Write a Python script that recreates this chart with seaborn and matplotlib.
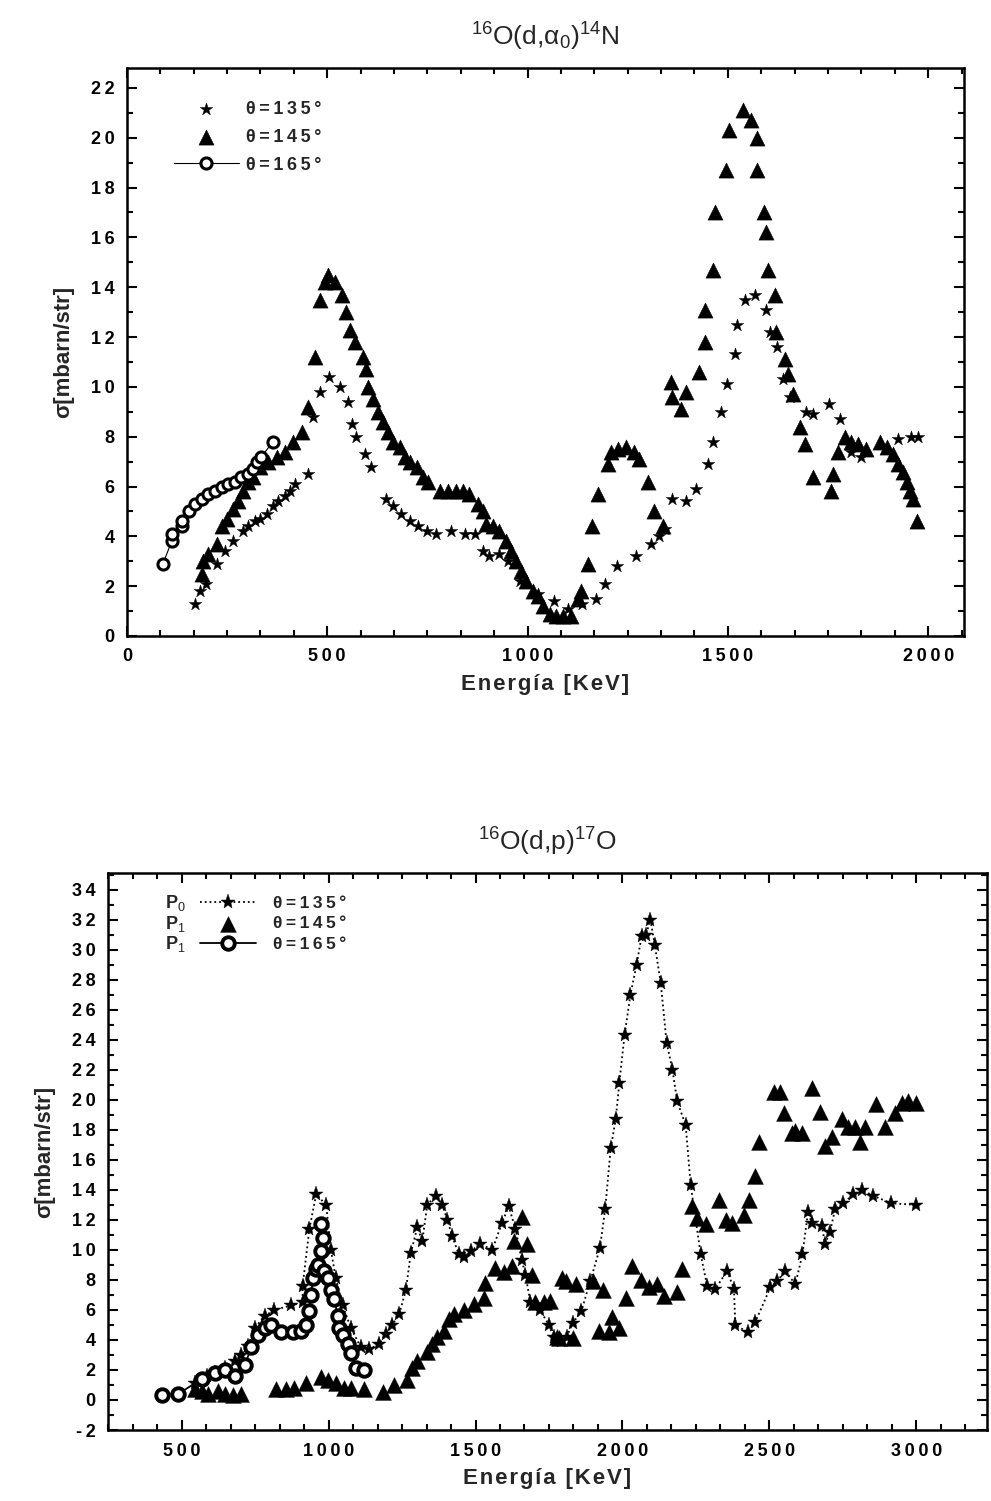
import matplotlib
matplotlib.use("Agg")
import matplotlib.pyplot as plt
import seaborn as sns
from matplotlib.ticker import MultipleLocator, AutoMinorLocator, FuncFormatter

# ---- 16O(d,a0)14N ----
e135_top = [170, 183, 198, 224, 245, 266, 291, 303, 320, 332, 349, 365, 378, 395, 407, 419, 453, 465, 482, 505,
            533, 552, 561, 573, 594, 610, 648, 664, 685, 706, 727, 748, 772, 810, 843, 868, 889, 905, 930, 951,
            980, 1026, 1067, 1100, 1135, 1171, 1193, 1223, 1271, 1307, 1329, 1342, 1360, 1396, 1421, 1450, 1462,
            1482, 1498, 1519, 1523, 1542, 1567, 1596, 1604, 1623, 1637, 1654, 1696, 1712, 1752, 1779, 1808, 1833,
            1925, 1958, 1975]
s135_top = [1.3, 1.8, 2.1, 2.9, 3.4, 3.8, 4.2, 4.4, 4.6, 4.7, 4.9, 5.2, 5.4, 5.6, 5.8, 6.1, 6.5, 8.8, 9.8, 10.4,
            10.0, 9.4, 8.5, 8.0, 7.3, 6.8, 5.5, 5.2, 4.9, 4.6, 4.4, 4.2, 4.1, 4.2, 4.1, 4.1, 3.4, 3.2, 3.3, 3.0,
            2.2, 1.7, 1.4, 1.1, 1.3, 1.5, 2.1, 2.8, 3.2, 3.7, 4.0, 4.3, 5.5, 5.4, 5.9, 6.9, 7.8,
            9.0, 10.1, 11.3, 12.5, 13.5, 13.7, 13.1, 12.2, 11.6, 10.3, 9.6, 9.0, 8.9, 9.3, 8.7, 7.4, 7.2,
            7.9, 8.0, 8.0]

e145_top = [187, 191, 203, 224, 237, 249, 266, 278, 291, 303, 316, 332, 353, 374, 395, 415, 436, 453, 469, 482,
            494, 503, 519, 536, 548, 557, 569, 590, 598, 602, 615, 627, 640, 652, 664, 681, 694, 706, 723, 739,
            752, 781, 801, 822, 839, 855, 876, 889, 897, 914, 930, 947, 959, 972, 984, 997, 1013, 1026, 1038, 1055,
            1071, 1088, 1108, 1125, 1133, 1150, 1162, 1175, 1200, 1208, 1225, 1246, 1267, 1279, 1300, 1315, 1337,
            1358, 1360, 1383, 1396, 1429, 1442, 1442, 1462, 1467, 1496, 1504, 1537, 1557, 1573, 1573, 1590, 1596,
            1600, 1617, 1621, 1642, 1650, 1662, 1679, 1692, 1712, 1758, 1762, 1775, 1792, 1808, 1825, 1846, 1879,
            1896, 1912, 1925, 1937, 1946, 1954, 1962, 1971]
s145_top = [2.5, 3.0, 3.3, 3.7, 4.4, 4.7, 5.1, 5.4, 5.8, 6.2, 6.4, 6.8, 7.0, 7.2, 7.4, 7.8, 8.2, 9.2, 11.2, 13.5,
            14.2, 14.5, 14.2, 13.7, 13.0, 12.3, 11.8, 11.2, 10.7, 10.0, 9.5, 9.0, 8.6, 8.2, 7.8, 7.6, 7.2, 7.0, 6.8, 6.4,
            6.2, 5.8, 5.8, 5.8, 5.8, 5.7, 5.3, 5.0, 4.5, 4.4, 4.2, 3.8, 3.4, 3.0, 2.6, 2.2, 1.8, 1.6, 1.2, 0.9,
            0.8, 0.8, 0.8, 1.5, 1.8, 2.9, 4.4, 5.7, 6.9, 7.4, 7.5, 7.6, 7.4, 7.1, 6.2, 5.0, 4.4,
            10.2, 9.6, 9.1, 9.8, 10.6, 11.8, 13.1, 14.7, 17.0, 18.7, 20.3, 21.1, 20.7, 20.0, 18.7, 17.0, 16.2,
            14.7, 13.7, 12.2, 11.1, 10.5, 9.7, 8.4, 7.7, 6.4, 5.8, 6.5, 7.4, 8.0, 7.8, 7.7, 7.5, 7.8,
            7.6, 7.3, 6.9, 6.6, 6.2, 5.8, 5.5, 4.6]

e165_top = [90, 112, 112, 137, 137, 154, 170, 187, 203, 220, 237, 253, 270, 286, 303, 316, 324, 336, 365]
s165_top = [2.9, 3.8, 4.1, 4.4, 4.6, 5.0, 5.3, 5.5, 5.7, 5.8, 6.0, 6.1, 6.2, 6.4, 6.5, 6.7, 7.0, 7.2, 7.8]

# ---- 16O(d,p)17O ----
e135_bot = [545, 585, 613, 647, 681, 703, 726, 749, 783, 816, 873, 912, 912, 935, 958, 992, 1008, 1025, 1048, 1076,
            1110, 1138, 1172, 1195, 1217, 1240, 1263, 1280, 1302, 1319, 1336, 1364, 1387, 1404, 1421, 1443, 1460,
            1483, 1517, 1557, 1590, 1613, 1636, 1658, 1670, 1687, 1720, 1749, 1766, 1790, 1810, 1830, 1860, 1890,
            1923, 1941, 1960, 1977, 1989, 2007, 2027, 2048, 2065, 2080, 2095, 2110, 2130, 2150, 2170, 2186, 2215,
            2232, 2266, 2288, 2316, 2356, 2379, 2384, 2427, 2452, 2503, 2525, 2554, 2588, 2612, 2631, 2644, 2678,
            2689, 2706, 2723, 2751, 2785, 2814, 2853, 2915, 3000]
s135_bot = [1.1, 1.6, 1.8, 2.1, 2.6, 3.0, 3.6, 4.8, 5.6, 6.0, 6.3, 6.5, 7.6, 11.4, 13.7, 13.0, 10.0, 8.1, 6.3, 4.8,
            3.5, 3.4, 3.7, 4.4, 5.0, 5.7, 7.3, 9.8, 11.5, 10.6, 13.0, 13.6, 13.0, 12.0, 10.9, 9.7, 9.5,
            9.9, 10.4, 10.0, 11.8, 12.9, 11.4, 9.3, 8.3, 6.5, 6.0, 5.0, 4.2, 3.9, 4.2, 5.1, 5.9, 7.9,
            10.1, 12.7, 16.8, 18.7, 21.1, 24.3, 27.0, 29.0, 30.9, 31.0, 32.0, 30.3, 27.8, 23.8, 22.0, 19.9, 18.3,
            14.3, 9.7, 7.6, 7.4, 8.6, 7.4, 5.0, 4.5, 5.2, 7.5, 7.9, 8.6, 7.7, 9.7, 12.5, 11.8, 11.6,
            10.4, 11.2, 12.7, 13.1, 13.7, 14.0, 13.6, 13.1, 13.0]

e145_bot = [545, 568, 590, 624, 647, 675, 703, 822, 856, 884, 924, 975, 997, 1025, 1054, 1076, 1122, 1184, 1223, 1268,
            1285, 1302, 1336, 1353, 1370, 1393, 1410, 1427, 1461, 1494, 1528, 1534, 1568, 1596, 1624, 1630, 1658,
            1675, 1692, 1704, 1732, 1754, 1777, 1785, 1794, 1808, 1830, 1842, 1898, 1921, 1932, 1955, 1966, 1989,
            2011, 2034, 2062, 2090, 2119, 2141, 2186, 2203, 2237, 2254, 2283, 2328, 2351, 2373, 2412, 2430, 2452,
            2463, 2514, 2537, 2548, 2576, 2587, 2610, 2644, 2672, 2689, 2712, 2746, 2768, 2791, 2808, 2825, 2864,
            2893, 2927, 2950, 2972, 3000]
s145_bot = [0.7, 0.6, 0.4, 0.6, 0.4, 0.3, 0.4, 0.7, 0.7, 0.8, 1.1, 1.5, 1.3, 1.1, 0.8, 0.8, 0.7, 0.5, 1.0, 1.3,
            2.1, 2.6, 3.2, 3.7, 4.2, 4.6, 5.4, 5.7, 6.0, 6.4, 6.8, 7.8, 8.8, 8.5, 8.9, 10.6, 12.2,
            10.4, 8.3, 6.5, 6.5, 6.6, 4.2, 4.1, 8.1, 7.9, 4.1, 7.7, 7.9, 4.6, 7.3, 4.5, 5.5, 4.8,
            6.8, 8.9, 8.0, 7.5, 7.7, 6.9, 7.2, 8.7, 12.9, 12.1, 11.7, 13.3, 12.0, 11.8, 12.3, 13.3, 14.9,
            17.2, 20.5, 20.5, 19.1, 17.8, 17.9, 17.8, 20.8, 19.2, 16.9, 17.5, 18.7, 18.2, 18.2, 17.2, 18.2, 19.7,
            18.2, 19.1, 19.8, 19.9, 19.8]

e165_bot = [432, 489, 568, 613, 647, 681, 715, 737, 760, 783, 805, 839, 879, 907, 924, 935, 941, 946, 958, 963,
            975, 980, 975, 986, 997, 1008, 1020, 1031, 1037, 1048, 1065, 1076, 1093, 1122]
s165_bot = [0.3, 0.4, 1.4, 1.8, 2.0, 1.6, 2.3, 3.5, 4.3, 4.8, 5.0, 4.5, 4.5, 4.6, 5.0, 5.9, 7.0, 8.1, 8.7, 9.0,
            9.9, 10.8, 11.7, 8.6, 8.1, 7.3, 6.7, 5.6, 4.8, 4.3, 3.7, 3.1, 2.1, 2.0]

labels = ["θ=135°", "θ=145°", "θ=165°"]
p_labels = ["$\\mathbf{P}_{0}$", "$\\mathbf{P}_{1}$", "$\\mathbf{P}_{1}$"]

sns.set_style("ticks")
plt.rcParams["font.family"] = ["Liberation Sans", "DejaVu Sans"]
plt.rcParams["font.weight"] = "bold"
plt.rcParams["axes.unicode_minus"] = False
plt.rcParams["mathtext.fontset"] = "custom"
plt.rcParams["mathtext.rm"] = "Liberation Sans:weight=normal"
plt.rcParams["mathtext.it"] = "Liberation Sans:italic:weight=normal"
plt.rcParams["mathtext.bf"] = "Liberation Sans:weight=bold"

THIN = "\u2009"
HAIR = "\u200a"


def spaced(s, gap=THIN):
    # the scanned figure uses wide letter spacing
    return gap.join(s)


def style_axes(ax, xlim, ylim, title):
    ax.set_xlim(*xlim)
    ax.set_ylim(*ylim)
    ax.xaxis.set_major_locator(MultipleLocator(500))
    ax.xaxis.set_minor_locator(AutoMinorLocator(6))
    ax.yaxis.set_major_locator(MultipleLocator(2))
    ax.yaxis.set_minor_locator(AutoMinorLocator(2))
    fmt = FuncFormatter(lambda v, p: spaced(f"{v:g}"))
    ax.xaxis.set_major_formatter(fmt)
    ax.yaxis.set_major_formatter(fmt)
    ax.tick_params(which="both", direction="in", top=True, right=True, width=1.5,
                   colors="black", labelsize=13, pad=9)
    ax.tick_params(which="major", length=7)
    ax.tick_params(which="minor", length=4)
    for sp in ax.spines.values():
        sp.set_linewidth(1.8)
        sp.set_color("black")
    ax.set_xlabel(spaced("Energía [KeV]", HAIR), fontsize=16, fontweight="bold", labelpad=6)
    ax.set_ylabel("σ[mbarn/str]", fontsize=16, fontweight="bold", labelpad=12)
    ax.set_title(title, fontsize=19, fontweight="normal", pad=16)


fig = plt.figure(figsize=(9.91, 15.01), dpi=100)
ax1 = fig.add_axes([0.128, 0.5763, 0.845, 0.3784])
ax2 = fig.add_axes([0.109, 0.0473, 0.887, 0.371])

# top panel
sns.scatterplot(x=e135_top, y=s135_top, marker="*", s=90, color="black", edgecolor="black",
                linewidth=0.3, ax=ax1, label=spaced(labels[0]))
sns.scatterplot(x=e145_top, y=s145_top, marker="^", s=120, color="black", edgecolor="black",
                linewidth=0.3, ax=ax1, label=spaced(labels[1]))
sns.lineplot(x=e165_top, y=s165_top, sort=False, estimator=None, color="black", lw=0.8,
             marker="o", markersize=8, markerfacecolor="white", markeredgecolor="black",
             markeredgewidth=2.2, ax=ax1, label=spaced(labels[2]))
style_axes(ax1, (0, 2090), (0, 22.8), "$^{16}$O(d,α$_{0}$)$^{14}$N")
ax1.legend(loc="upper left", bbox_to_anchor=(0.045, 0.958), frameon=False, fontsize=13,
           handlelength=3.6, handletextpad=0.4, labelspacing=0.6, borderpad=0)

# bottom panel
sns.lineplot(x=e135_bot, y=s135_bot, sort=False, estimator=None, color="black", lw=1.3,
             linestyle=":", marker="*", markersize=11, markeredgecolor="black",
             markeredgewidth=0.3, ax=ax2, label=spaced(labels[0]))
sns.scatterplot(x=e145_bot, y=s145_bot, marker="^", s=130, color="black", edgecolor="black",
                linewidth=0.3, ax=ax2, label=spaced(labels[1]))
sns.lineplot(x=e165_bot, y=s165_bot, sort=False, estimator=None, color="black", lw=1.3,
             marker="o", markersize=9, markerfacecolor="white", markeredgecolor="black",
             markeredgewidth=2.8, ax=ax2, label=spaced(labels[2]))
style_axes(ax2, (250, 3240), (-2, 35.1), "$^{16}$O(d,p)$^{17}$O")
leg2 = ax2.legend(loc="upper left", bbox_to_anchor=(0.095, 0.975), frameon=False, fontsize=12.5,
                  handlelength=3.2, handletextpad=1.0, labelspacing=0.3, borderpad=0)

# P0 / P1 tags in front of the bottom legend rows
fig.canvas.draw()
inv = ax2.transAxes.inverted()
for txt, tag in zip(leg2.get_texts(), p_labels):
    bb = txt.get_window_extent()
    _, yc = inv.transform((bb.x0, (bb.y0 + bb.y1) / 2))
    ax2.text(0.065, yc, tag, transform=ax2.transAxes, fontsize=13, va="center", ha="left")

fig.savefig("out.png", dpi=100)
